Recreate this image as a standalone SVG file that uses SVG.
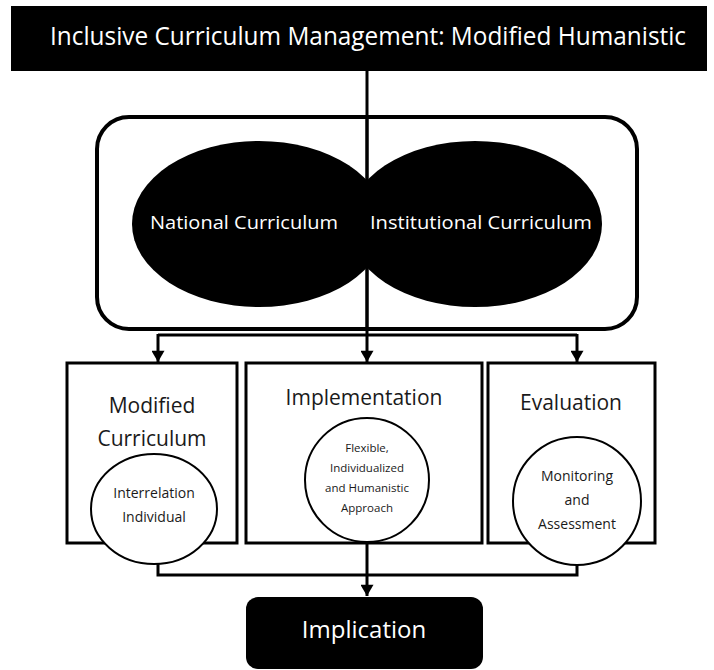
<svg xmlns="http://www.w3.org/2000/svg" width="714" height="670" viewBox="0 0 714 670">
  <defs>
    <marker id="arrowDown" markerUnits="userSpaceOnUse" markerWidth="14" markerHeight="13" refX="12" refY="7" orient="auto" viewBox="0 0 13 14">
      <path d="M0,0 L12,7 L0,14 Z" fill="#000"/>
    </marker>
  </defs>
  <style>
    text { font-family: "Open Sans", "Liberation Sans", sans-serif; text-anchor: middle; }
    .white { fill: #fff; }
    .dark { fill: #1a1a1a; }
    .box { fill: #fff; stroke: #000; stroke-width: 3; }
    .circ { fill: #fff; stroke: #000; stroke-width: 2; }
    .line { fill: none; stroke: #000; stroke-width: 3; }
  </style>

  <rect width="714" height="670" fill="#fff"/>

  <!-- connectors -->
  <g id="connectors">
    <line class="line" x1="367" y1="71" x2="367" y2="362" marker-end="url(#arrowDown)"/>
    <path class="line" d="M158,335 H577"/>
    <line class="line" x1="158" y1="334" x2="158" y2="362" marker-end="url(#arrowDown)"/>
    <line class="line" x1="577" y1="334" x2="577" y2="362" marker-end="url(#arrowDown)"/>
    <path class="line" d="M158,562 V575 H577 V564"/>
    <line class="line" x1="367" y1="543" x2="367" y2="596" marker-end="url(#arrowDown)"/>
  </g>

  <!-- title bar -->
  <g id="title">
    <rect x="11" y="6" width="696" height="65" fill="#000"/>
    <text x="368" y="45" font-size="25" class="white" textLength="636" lengthAdjust="spacingAndGlyphs">Inclusive Curriculum Management: Modified Humanistic</text>
  </g>

  <!-- curriculum sources -->
  <g id="sources">
    <rect x="97" y="117" width="540" height="212" rx="32" fill="none" stroke="#000" stroke-width="4"/>
    <line class="line" x1="367" y1="117" x2="367" y2="329"/>
    <g id="national">
      <ellipse cx="259" cy="224" rx="127" ry="83" fill="#000"/>
      <text x="244" y="229" font-size="18" class="white" textLength="188" lengthAdjust="spacingAndGlyphs">National Curriculum</text>
    </g>
    <g id="institutional">
      <ellipse cx="475" cy="224" rx="127" ry="83" fill="#000"/>
      <text x="481" y="229" font-size="18" class="white" textLength="222" lengthAdjust="spacingAndGlyphs">Institutional Curriculum</text>
    </g>
  </g>

  <!-- modified curriculum -->
  <g id="modified">
    <rect class="box" x="67" y="363" width="170" height="180"/>
    <text x="152" y="413" font-size="21" class="dark">Modified</text>
    <text x="152" y="446" font-size="21" class="dark">Curriculum</text>
    <ellipse class="circ" cx="154" cy="509" rx="63" ry="55"/>
    <text x="154" y="498" font-size="14" class="dark">Interrelation</text>
    <text x="154" y="522" font-size="14" class="dark">Individual</text>
  </g>

  <!-- implementation -->
  <g id="implementation">
    <rect class="box" x="246" y="363" width="236" height="180"/>
    <text x="364" y="405" font-size="21" class="dark">Implementation</text>
    <circle class="circ" cx="367" cy="480" r="62"/>
    <text x="367" y="452" font-size="11.5" class="dark">Flexible,</text>
    <text x="367" y="472" font-size="11.5" class="dark">Individualized</text>
    <text x="367" y="492" font-size="11.5" class="dark">and Humanistic</text>
    <text x="367" y="512" font-size="11.5" class="dark">Approach</text>
  </g>

  <!-- evaluation -->
  <g id="evaluation">
    <rect class="box" x="488" y="363" width="167" height="180"/>
    <text x="571" y="410" font-size="21" class="dark">Evaluation</text>
    <circle class="circ" cx="577" cy="501" r="64"/>
    <text x="577" y="481" font-size="14" class="dark">Monitoring</text>
    <text x="577" y="505" font-size="14" class="dark">and</text>
    <text x="577" y="529" font-size="14" class="dark">Assessment</text>
  </g>

  <!-- implication -->
  <g id="implication">
    <rect x="246" y="597" width="237" height="72" rx="12" fill="#000"/>
    <text x="364" y="638" font-size="24" class="white">Implication</text>
  </g>
</svg>
